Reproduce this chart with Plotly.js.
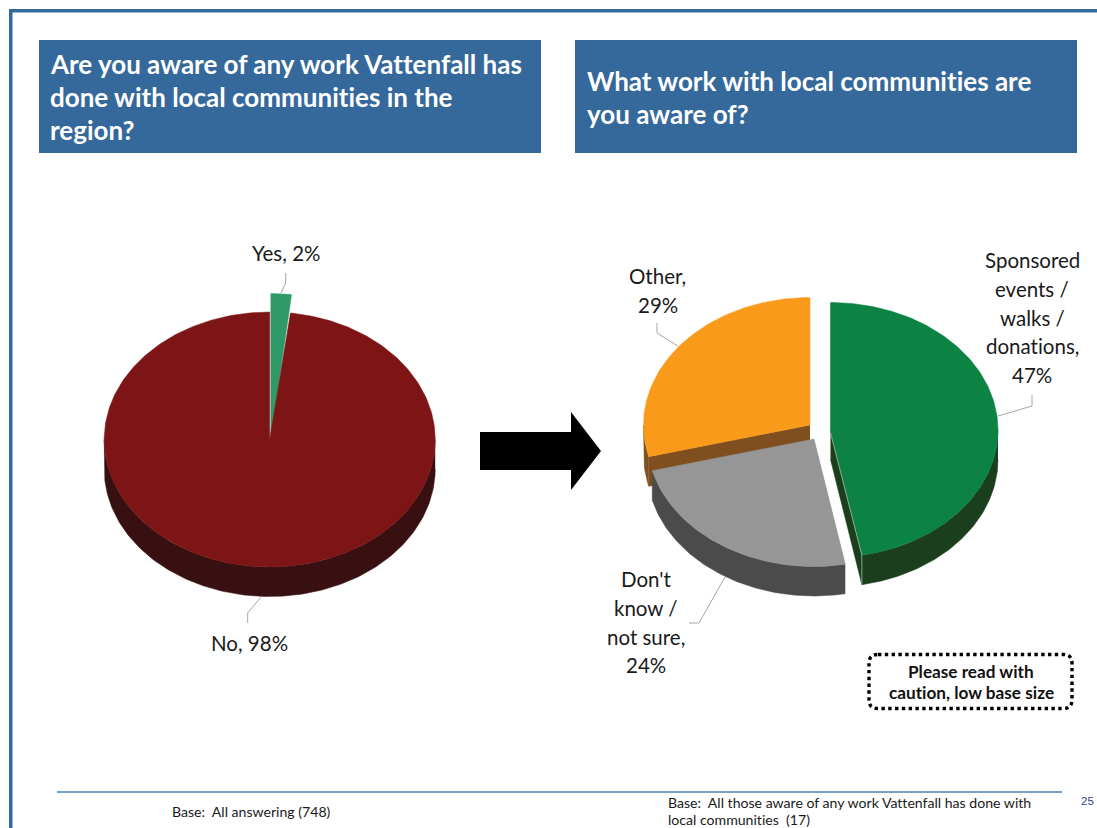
<!DOCTYPE html>
<html>
<head>
<meta charset="utf-8">
<script src="https://cdn.plot.ly/plotly-3.0.1.min.js"></script>
<style>html,body{margin:0;padding:0;background:#fff;overflow:hidden}#chart{width:1097px;height:828px}
svg text{font-variant-ligatures:none;font-feature-settings:"liga" 0}</style>
</head>
<body>
<div id="chart"></div>
<script>
// ---- data ----
const leftCategories = ["Yes", "No"];
const leftValues = [2, 98];
const rightCategories = ["Sponsored events / walks / donations", "Don't know / not sure", "Other"];
const rightValues = [47, 24, 29];
const leftLabelLines = [["Yes, 2%"], ["No, 98%"]];
const rightLabelLines = [
  ["Sponsored", "events /", "walks /", "donations,", "47%"],
  ["Don't", "know /", "not sure,", "24%"],
  ["Other,", "29%"]
];
const leftTitleLines = ["Are you aware of any work Vattenfall has", "done with local communities in the", "region?"];
const rightTitleLines = ["What work with local communities are", "you aware of?"];
const cautionLines = ["Please read with", "caution, low base size"];
const leftBase = ["Base:  All answering (748)"];
const rightBase = ["Base:  All those aware of any work Vattenfall has done with", "local communities  (17)"];
const pageNumber = "25";

// ---- styles and geometry ----
const FONT = "Lato, Carlito, Calibri, sans-serif";
const BLUE = "#35689b";
const RY = 127.5, DEPTH = 29.5;
const leftStyle = [
  {top: "#2f9a67", wall: "#14492f", cx: 270, cy: 439, rx: 165.5, lift: 18, wallless: true},
  {top: "#7d1416", wall: "#381011", cx: 269.7, cy: 439.5, rx: 165.5, lift: 0}
];
const rightStyle = [
  {top: "#0c8243", wall: "#1b3e1c", cx: 830.5, cy: 430, rx: 167.5, lift: 0, endFace: true, edge: true},
  {top: "#969696", wall: "#4b4b4b", cx: 814, cy: 439, rx: 167, lift: 0},
  {top: "#fa9a1b", wall: "#7f4f20", cx: 810, cy: 425, rx: 166.5, lift: 0, startFace: true}
];

function arc(s, a0, a1, dy) {
  const xs = [], ys = [];
  const n = Math.max(2, Math.ceil(Math.abs(a1 - a0)));
  for (let i = 0; i <= n; i++) {
    const a = (a0 + (a1 - a0) * i / n) * Math.PI / 180;
    xs.push(s.cx + s.rx * Math.sin(a));
    ys.push(s.cy - RY * Math.cos(a) + dy);
  }
  return [xs, ys];
}
function poly(xs, ys, color, name) {
  return {type: "scatter", mode: "lines", x: xs, y: ys, fill: "toself", fillcolor: color,
    line: {width: 0.5, color: color}, hoverinfo: "text", text: name, showlegend: false};
}
function pieTraces(values, cats, styles, order) {
  const total = values.reduce((a, b) => a + b, 0);
  let acc = 0;
  const spans = values.map(v => { const a0 = acc / total * 360; acc += v; return [a0, acc / total * 360]; });
  const out = [];
  order.forEach(i => {
    const s = styles[i], a0 = spans[i][0], a1 = spans[i][1], name = cats[i] + ", " + values[i] + "%";
    if (s.startFace) {
      const [ex, ey] = arc(s, a0, a0, 0);
      out.push(poly([s.cx, ex[0], ex[0], s.cx], [s.cy, ey[0], ey[0] + DEPTH, s.cy + DEPTH], s.wall, name));
    }
    if (s.endFace) {
      const [ex, ey] = arc(s, a1, a1, 0);
      out.push(poly([s.cx, ex[0], ex[0], s.cx], [s.cy, ey[0], ey[0] + DEPTH, s.cy + DEPTH], s.wall, name));
    }
    const w0 = Math.max(a0, 90), w1 = Math.min(a1, 270);
    if (!s.wallless && w1 > w0) {
      const [tx, ty] = arc(s, w0, w1, 0), [bx, by] = arc(s, w1, w0, DEPTH);
      out.push(poly(tx.concat(bx), ty.concat(by), s.wall, name));
    }
    if (s.lift) {
      // exploded sliver: the rim is lifted while the point stays at the centre
      const [ax, ay] = arc(s, a0, a1, -s.lift);
      out.push(poly([s.cx + 0.8].concat(ax.map(v => v + 0.8), [s.cx + 0.8]), [s.cy].concat(ay, [s.cy]), s.top, name));
    } else {
      const [ax, ay] = arc(s, a0, a1, 0);
      out.push(poly([s.cx].concat(ax, [s.cx]), [s.cy].concat(ay, [s.cy]), s.top, name));
    }
    if (s.edge) {
      const [ex, ey] = arc(s, a1, a1, 0);
      out.push({type: "scatter", mode: "lines", x: [s.cx, ex[0], ex[0]], y: [s.cy + 3, ey[0], ey[0] + DEPTH],
        line: {width: 0.7, color: "#b9cabd"}, hoverinfo: "skip", showlegend: false});
    }
  });
  return out;
}
const traces = [].concat(
  pieTraces(leftValues, leftCategories, leftStyle, [0, 1]),
  pieTraces(rightValues, rightCategories, rightStyle, [2, 1, 0])
);
function leader(xs, ys) {
  return {type: "scatter", mode: "lines", x: xs, y: ys, line: {width: 1, color: "#a6a6a6"},
    hoverinfo: "skip", showlegend: false};
}
traces.push(
  leader([281, 285.7, 285.7], [293, 283, 273]),
  leader([261, 247.7, 247.7], [597, 613, 623]),
  leader([998, 1032, 1032], [416, 406, 395]),
  leader([725, 699, 689], [577, 623, 623]),
  leader([678, 657, 657], [346, 333, 323])
);

const ann = [];
function text(t, x, y, size, opts) {
  ann.push(Object.assign({text: t, x: x, y: y, xref: "x", yref: "y", showarrow: false,
    xanchor: "center", yanchor: "middle", borderpad: 0,
    font: {family: FONT, size: size, color: "#1a1a1a"}}, opts || {}));
}
function lines(arr, x, y0, step, size, opts) {
  arr.forEach((t, i) => text(t, x, y0 + i * step, size, opts));
}
const LBL = 20.5, STEP = 28.75;
lines(leftLabelLines[0], 286.2, 253, STEP, LBL);
lines(leftLabelLines[1], 249, 643, STEP, LBL);
lines(rightLabelLines[0], 1032, 260, STEP, LBL);
lines(rightLabelLines[1], 646, 579, STEP, LBL);
lines(rightLabelLines[2], 657.5, 276, STEP, LBL);
const white = {xanchor: "left", font: {family: FONT, size: 26, color: "#ffffff", weight: 700}};
lines(leftTitleLines, 49, 63.5, 33.3, 26, white);
lines(rightTitleLines, 585.5, 80.5, 33.3, 26, white);
lines(cautionLines, 971, 671, 21, 17.2, {font: {family: FONT, size: 17.2, color: "#111111", weight: 700}});
lines(leftBase, 170.5, 811, 18, 14.1, {xanchor: "left"});
lines(rightBase, 666.5, 802, 17.5, 14.1, {xanchor: "left"});
text(pageNumber, 1087.5, 801, 11.5, {font: {family: "Liberation Sans, Arial, sans-serif", size: 11.5, color: "#2e3f8f"}});

function rect(x0, y0, x1, y1, c) {
  return {type: "rect", xref: "x", yref: "y", x0, y0, x1, y1, fillcolor: c, line: {width: 0}, layer: "below"};
}
const shapes = [
  rect(9, 9, 1097, 12.5, BLUE),
  rect(9, 9, 12.5, 828, BLUE),
  rect(39, 40, 541, 153, BLUE),
  rect(575, 40, 1077, 153, BLUE),
  rect(57, 791.3, 1062, 792.8, "#4f81ab"),
  {type: "path", xref: "x", yref: "y", layer: "above", fillcolor: "#000000", line: {width: 0},
   path: "M480,432 L571,432 L571,412 L601,451 L571,490 L571,470 L480,470 Z"},
  {type: "path", xref: "x", yref: "y", layer: "above", fillcolor: "rgba(0,0,0,0)",
   line: {width: 3.4, color: "#000000", dash: "dot"},
   path: "M878,654.5 L1063,654.5 Q1072,654.5 1072,663 L1072,700 Q1072,708.5 1063,708.5 L878,708.5 Q869,708.5 869,700 L869,663 Q869,654.5 878,654.5 Z"}
];

Plotly.newPlot("chart", traces, {
  width: 1097, height: 828, margin: {l: 0, r: 0, t: 0, b: 0},
  paper_bgcolor: "#ffffff", plot_bgcolor: "#ffffff", showlegend: false,
  xaxis: {range: [0, 1097], visible: false, fixedrange: true},
  yaxis: {range: [828, 0], visible: false, fixedrange: true},
  shapes: shapes, annotations: ann
}, {displayModeBar: false, staticPlot: false});
</script>
</body>
</html>
